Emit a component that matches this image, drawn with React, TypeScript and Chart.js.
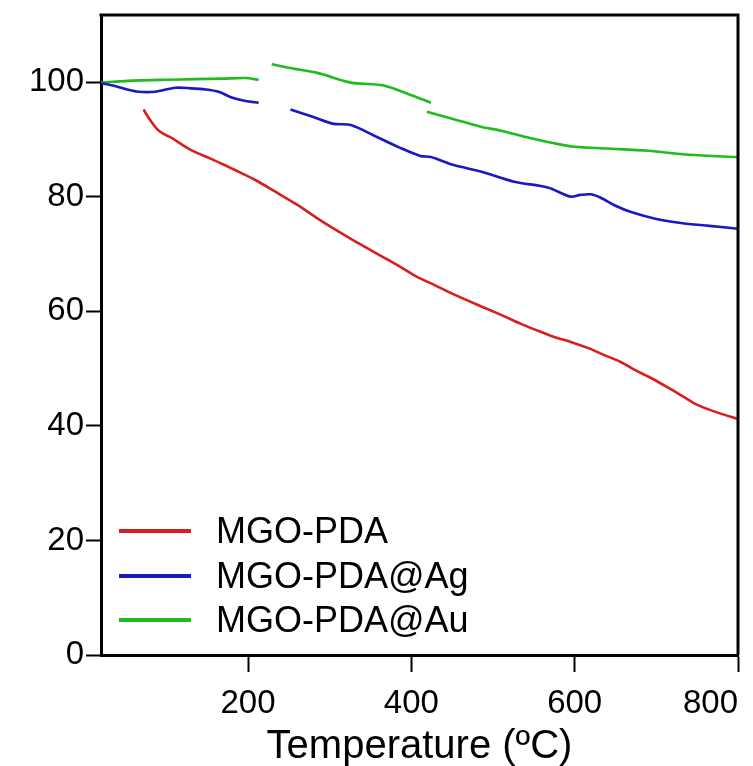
import React, { useEffect, useRef } from "react";
import { Chart, registerables } from "chart.js";

Chart.register(...registerables);

// ---- data ----
const seriesNames = ["MGO-PDA", "MGO-PDA@Ag", "MGO-PDA@Au"];
const seriesColors = ["#d81e1e", "#1818c4", "#20bb20"];

// first entry (20) is the axis start, carries no label
const xTicks = [20, 200, 400, 600, 800];
const yTicks = [0, 20, 40, 60, 80, 100];

// MGO-PDA (red) – start hidden by the white patch of the original figure
const redT = [72, 80, 90, 100, 107, 120, 135, 155, 176, 192, 209, 233, 260, 285, 305, 325, 346, 366, 387, 407, 428, 448, 470, 493, 514, 534, 555, 575, 596, 616, 632, 657, 673, 694, 714, 733, 751, 775, 800];
const redV = [95.2, 93.4, 91.6, 90.7, 90.2, 89.0, 87.8, 86.6, 85.2, 84.1, 82.9, 80.9, 78.6, 76.2, 74.4, 72.7, 71.0, 69.4, 67.7, 66.0, 64.6, 63.2, 61.8, 60.4, 59.1, 57.8, 56.6, 55.5, 54.6, 53.6, 52.6, 51.1, 49.8, 48.3, 46.7, 45.1, 43.6, 42.3, 41.2];

// MGO-PDA@Ag (blue) – two pieces, broken by the white patch
const blueT1 = [20, 37, 52, 66, 86, 111, 130, 148, 164, 180, 197, 213];
const blueV1 = [99.8, 99.3, 98.7, 98.3, 98.3, 99.0, 98.9, 98.7, 98.3, 97.3, 96.7, 96.4];
const blueT2 = [252, 280, 305, 326, 358, 385, 411, 424, 452, 485, 526, 567, 595, 607, 620, 632, 650, 669, 700, 730, 765, 800];
const blueV2 = [95.2, 93.9, 92.7, 92.5, 90.4, 88.6, 87.1, 86.9, 85.5, 84.4, 82.6, 81.6, 80.0, 80.3, 80.4, 79.8, 78.4, 77.3, 76.1, 75.4, 74.9, 74.4];

// MGO-PDA@Au (green) – three pieces, broken by the white patches
const greenT1 = [20, 53, 100, 135, 170, 197, 213];
const greenV1 = [99.9, 100.2, 100.4, 100.5, 100.6, 100.7, 100.4];
const greenT2 = [229, 257, 285, 326, 366, 400, 424];
const greenV2 = [103.1, 102.3, 101.6, 99.9, 99.4, 97.7, 96.4];
const greenT3 = [419, 450, 485, 510, 540, 575, 600, 640, 690, 740, 800];
const greenV3 = [94.8, 93.6, 92.2, 91.5, 90.4, 89.3, 88.7, 88.4, 88.0, 87.3, 86.9];

type Pt = { x: number; y: number | null };

function zip(t: number[], v: number[]): Pt[] {
  return t.map((x, i) => ({ x, y: v[i] }));
}
function joinPieces(pieces: Pt[][]): Pt[] {
  const out: Pt[] = [];
  pieces.forEach((p, i) => {
    if (i > 0) {
      const prev = out[out.length - 1];
      out.push({ x: prev.x, y: null });
    }
    out.push(...p);
  });
  return out;
}

const FONT = "'Liberation Sans', Arial, Helvetica, sans-serif";

const frameAndLegend = {
  id: "frameAndLegend",
  afterDatasetsDraw(chart: any) {
    const { ctx, chartArea } = chart;
    ctx.save();
    ctx.strokeStyle = "#000";
    ctx.lineWidth = 3;
    ctx.beginPath();
    ctx.moveTo(chartArea.left - 1.5, chartArea.top);
    ctx.lineTo(chartArea.right, chartArea.top);
    ctx.lineTo(chartArea.right, chartArea.bottom);
    ctx.stroke();

    // legend inside the plot
    const rowsY = [531, 576, 620];
    chart.data.datasets.forEach((ds: any, i: number) => {
      const y = rowsY[i];
      ctx.strokeStyle = ds.borderColor;
      ctx.lineWidth = 4;
      ctx.beginPath();
      ctx.moveTo(119, y);
      ctx.lineTo(191, y);
      ctx.stroke();
      ctx.fillStyle = "#000";
      ctx.font = `36px ${FONT}`;
      ctx.textAlign = "left";
      ctx.textBaseline = "middle";
      ctx.fillText(ds.label, 216, y + 2);
    });
    ctx.restore();
  },
};

export default function App() {
  const ref = useRef<HTMLCanvasElement | null>(null);

  useEffect(() => {
    if (!ref.current) return;
    const data = [
      joinPieces([zip(redT, redV)]),
      joinPieces([zip(blueT1, blueV1), zip(blueT2, blueV2)]),
      joinPieces([zip(greenT1, greenV1), zip(greenT2, greenV2), zip(greenT3, greenV3)]),
    ];
    const chart = new Chart(ref.current, {
      type: "line",
      data: {
        datasets: seriesNames.map((name, i) => ({
          label: name,
          data: data[i] as any,
          borderColor: seriesColors[i],
          backgroundColor: seriesColors[i],
          borderWidth: 2.6,
          pointRadius: 0,
          tension: 0.3,
          spanGaps: false,
          fill: false,
        })),
      },
      options: {
        responsive: false,
        animation: false,
        layout: { padding: { left: 0, right: 15, top: 15, bottom: 0 } },
        plugins: {
          legend: { display: false },
          tooltip: { enabled: false },
        },
        scales: {
          x: {
            type: "linear",
            min: 20,
            max: 800,
            afterBuildTicks: (s: any) => {
              s.ticks = xTicks.map((v) => ({ value: v }));
            },
            afterFit: (s: any) => {
              s.height = 111;
              s.paddingLeft = 0;
              s.paddingRight = 0;
            },
            grid: {
              display: true,
              drawOnChartArea: false,
              drawTicks: true,
              tickLength: 17,
              tickWidth: 2,
              tickColor: (c: any) => (c.tick && c.tick.value === xTicks[0] ? "rgba(0,0,0,0)" : "#000"),
            },
            border: { display: true, color: "#000", width: 3 },
            ticks: {
              color: "#000",
              padding: 12,
              maxRotation: 0,
              autoSkip: false,
              align: "inner",
              callback: (v: any) => (v === xTicks[0] ? "" : String(v)),
              font: { family: FONT, size: 33 },
            },
            title: {
              display: true,
              text: "Temperature (ºC)",
              color: "#000",
              font: { family: FONT, size: 40, lineHeight: 1 },
              padding: { top: 0, bottom: -1 },
            },
          },
          y: {
            type: "linear",
            min: 0,
            max: 111.7,
            afterBuildTicks: (s: any) => {
              s.ticks = yTicks.map((v) => ({ value: v }));
            },
            afterFit: (s: any) => {
              s.width = 101;
              s.paddingTop = 0;
              s.paddingBottom = 0;
            },
            grid: {
              display: true,
              drawOnChartArea: false,
              drawTicks: true,
              tickLength: 15,
              tickWidth: 2,
              tickColor: "#000",
            },
            border: { display: true, color: "#000", width: 3 },
            ticks: {
              color: "#000",
              padding: 2,
              font: { family: FONT, size: 33 },
            },
          },
        },
      },
      plugins: [frameAndLegend],
    });
    return () => chart.destroy();
  }, []);

  return (
    <div style={{ position: "fixed", left: 0, top: 0, width: 753, height: 766, background: "#fff" }}>
      <canvas ref={ref} width={753} height={766} style={{ display: "block" }} />
    </div>
  );
}
